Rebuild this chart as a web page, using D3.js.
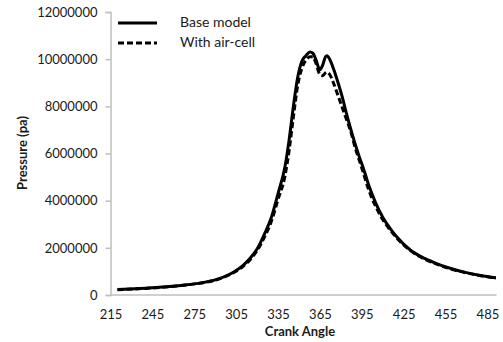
<!DOCTYPE html>
<html>
<head>
<meta charset="utf-8">
<script src="https://cdn.jsdelivr.net/npm/d3@7"></script>
<style>
  body { margin: 0; background: #fff; }
  text { font-family: Lato, "Open Sans", sans-serif; fill: #1a1a1a; }
</style>
</head>
<body>
<script>
// crank angle (deg) and pressure (pa)
var angles = [220, 230, 240, 250, 260, 270, 280, 290, 300, 305, 310, 315, 320, 325, 330, 335, 340, 343, 346, 349, 352, 355, 358, 360, 362, 365, 367, 369, 370, 372, 375, 378, 381, 384, 387, 390, 393, 396, 400, 405, 410, 415, 420, 430, 440, 450, 460, 470, 480, 491];
var baseModel = [230000, 255000, 285000, 325000, 375000, 435000, 515000, 640000, 870000, 1040000, 1260000, 1560000, 1950000, 2550000, 3250000, 4300000, 5450000, 6600000, 8000000, 9200000, 9900000, 10150000, 10300000, 10250000, 10000000, 9550000, 9750000, 10100000, 10150000, 10000000, 9550000, 9000000, 8400000, 7700000, 7050000, 6450000, 5900000, 5400000, 4650000, 3900000, 3300000, 2850000, 2470000, 1900000, 1550000, 1300000, 1100000, 950000, 830000, 730000];
var withAirCell = [225000, 250000, 280000, 320000, 370000, 430000, 510000, 630000, 850000, 1010000, 1220000, 1500000, 1880000, 2420000, 3080000, 4050000, 5050000, 6150000, 7550000, 8850000, 9600000, 9950000, 10100000, 10100000, 9850000, 9350000, 9300000, 9420000, 9450000, 9350000, 8950000, 8450000, 7950000, 7450000, 6950000, 6300000, 5750000, 5200000, 4450000, 3750000, 3200000, 2780000, 2420000, 1870000, 1520000, 1280000, 1080000, 935000, 820000, 720000];
var xTicks = [215, 245, 275, 305, 335, 365, 395, 425, 455, 485];
var yTicks = [0, 2000000, 4000000, 6000000, 8000000, 10000000, 12000000];

var width = 503, height = 342;
var svg = d3.select('body').append('svg')
            .attr('width', width)
            .attr('height', height);

var x = d3.scaleLinear().domain([215, 491.5]).range([110.5, 496.5]);
var y = d3.scaleLinear().domain([0, 12000000]).range([295, 12]);

var yAxis = d3.axisLeft(y).tickValues(yTicks).tickSize(5).tickPadding(8).tickFormat(d3.format('d'));
var xAxis = d3.axisBottom(x).tickValues(xTicks).tickSize(0).tickPadding(15).tickFormat(d3.format('d'));

function styleAxis(g) {
  g.select('.domain').attr('stroke', '#bfbfbf').attr('stroke-width', 1.5);
  g.selectAll('.tick line').attr('stroke', '#bfbfbf').attr('stroke-width', 1.5);
  g.selectAll('.tick text').style('font-size', '13px').attr('fill', '#1a1a1a')
   .style('font-family', 'Lato, "Open Sans", sans-serif');
}

svg.append('g').attr('class', 'y-axis')
   .attr('transform', 'translate(110.5,0)')
   .call(yAxis).call(styleAxis);
svg.append('g').attr('class', 'x-axis')
   .attr('transform', 'translate(0,295)')
   .call(xAxis).call(styleAxis);
svg.select('.x-axis .domain').attr('d', 'M110.5,0H496.5');

var line = d3.line()
             .x(function(d){ return x(d[0]); })
             .y(function(d){ return y(d[1]); })
             .curve(d3.curveMonotoneX);

svg.append('path')
   .attr('d', line(angles.map(function(a, i){ return [a, withAirCell[i]]; })))
   .attr('fill', 'none').attr('stroke', '#000').attr('stroke-width', 3)
   .attr('stroke-dasharray', '6,3');
svg.append('path')
   .attr('d', line(angles.map(function(a, i){ return [a, baseModel[i]]; })))
   .attr('fill', 'none').attr('stroke', '#000').attr('stroke-width', 3);

// legend
var legend = svg.append('g');
legend.append('line').attr('x1', 118).attr('x2', 157).attr('y1', 23).attr('y2', 23)
      .attr('stroke', '#000').attr('stroke-width', 3);
legend.append('line').attr('x1', 118).attr('x2', 157).attr('y1', 43).attr('y2', 43)
      .attr('stroke', '#000').attr('stroke-width', 3).attr('stroke-dasharray', '6,3');
legend.append('text').attr('x', 180).attr('y', 27).style('font-size', '14px').text('Base model');
legend.append('text').attr('x', 180).attr('y', 47).style('font-size', '14px').text('With air-cell');

svg.append('text')
   .attr('x', 300).attr('y', 336)
   .attr('text-anchor', 'middle')
   .style('font-size', '13px').style('font-weight', 'bold')
   .text('Crank Angle');
svg.append('text')
   .attr('transform', 'translate(27,153) rotate(-90)')
   .attr('text-anchor', 'middle')
   .style('font-size', '13px').style('font-weight', 'bold')
   .text('Pressure (pa)');
</script>
</body>
</html>
